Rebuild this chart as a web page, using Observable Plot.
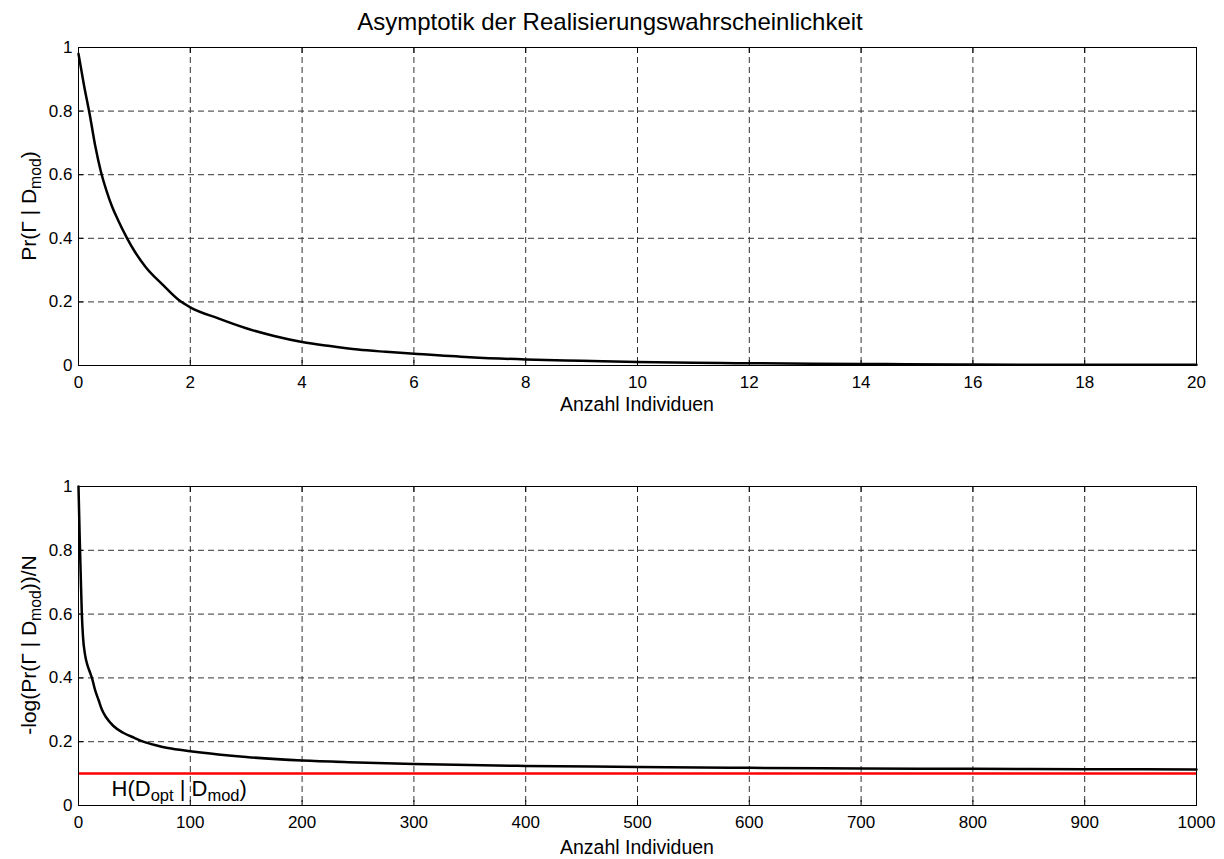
<!DOCTYPE html>
<html>
<head>
<meta charset="utf-8">
<script src="https://cdn.jsdelivr.net/npm/d3@7"></script>
<script src="https://cdn.jsdelivr.net/npm/@observablehq/plot@0.6"></script>
<style>
  html, body { margin: 0; padding: 0; background: #fff; }
  #wrap { position: relative; width: 1224px; height: 859px; font-family: "Liberation Sans", Arial, Helvetica, sans-serif; }
  #wrap svg { position: absolute; left: 0; }
  #wrap g[aria-label$="tick label"] text { font-size: 17px !important; fill: #000; }
</style>
</head>
<body>
<div id="wrap"></div>
<script>
// ---- Data ----
const titleText = "Asymptotik der Realisierungswahrscheinlichkeit";
const xLabel = "Anzahl Individuen";

// Top panel: Pr(Γ | D_mod) vs. number of individuals
const topX = [0, 0.1, 0.2, 0.3, 0.4, 0.5, 0.6, 0.7, 0.87, 1.0, 1.2, 1.5, 1.8, 2.0, 2.5, 3.0, 3.5, 4.0, 4.5, 5.0, 5.5, 6.0, 7.0, 8.0, 9.0, 10.0, 11.5, 12.0, 14.0, 14.8, 16.0, 18.0, 20.0];
const topY = [0.98, 0.88, 0.79, 0.69, 0.61, 0.55, 0.50, 0.46, 0.40, 0.36, 0.31, 0.255, 0.205, 0.183, 0.148, 0.117, 0.093, 0.074, 0.061, 0.050, 0.043, 0.037, 0.026, 0.019, 0.015, 0.011, 0.008, 0.007, 0.005, 0.004, 0.003, 0.002, 0.002];
const topXTicks = [0, 2, 4, 6, 8, 10, 12, 14, 16, 18, 20];

// Bottom panel: -log(Pr(Γ | D_mod))/N vs. number of individuals
const botX = [0, 1, 2, 3, 4, 6, 8, 10, 12, 15, 18, 21, 25, 31, 40, 50, 58, 70, 80, 100, 125, 150, 200, 250, 300, 400, 500, 600, 700, 800, 900, 1000];
const botY = [1.0, 0.85, 0.72, 0.60, 0.53, 0.47, 0.44, 0.42, 0.40, 0.36, 0.33, 0.30, 0.275, 0.25, 0.228, 0.212, 0.20, 0.188, 0.18, 0.17, 0.16, 0.152, 0.141, 0.135, 0.13, 0.124, 0.121, 0.118, 0.116, 0.115, 0.114, 0.113];
const botXTicks = [0, 100, 200, 300, 400, 500, 600, 700, 800, 900, 1000];

// Entropy limit H(D_opt | D_mod)
const hLimit = 0.1;
const hLabelPos = [30, 0.028];

const yTicks = [0, 0.2, 0.4, 0.6, 0.8, 1];

// ---- Build ----
const topData = topX.map((x, i) => ({x, y: topY[i]}));
const botData = botX.map((x, i) => ({x, y: botY[i]}));

const W = 1224;
const font = '"Liberation Sans", Arial, Helvetica, sans-serif';
const gridStyle = {stroke: "#333", strokeOpacity: 1, strokeWidth: 1, strokeDasharray: "6,4"};
const tickFont = 17;

function panel(data, xDomain, xTicks, height, mt, mb, extra) {
  return Plot.plot({
    width: W, height,
    marginLeft: 78, marginRight: 28, marginTop: mt, marginBottom: mb,
    style: {fontFamily: font, fontSize: tickFont + "px", color: "#000", background: "transparent"},
    x: {domain: xDomain, label: null},
    y: {domain: [0, 1], label: null},
    marks: [
      Plot.gridX(xTicks, gridStyle),
      Plot.gridY(yTicks, gridStyle),
      ...(extra || []),
      Plot.line(data, {x: "x", y: "y", stroke: "#000", strokeWidth: 2.5, curve: "monotone-x"}),
      Plot.frame({stroke: "#000", strokeWidth: 1}),
      Plot.axisX(xTicks, {anchor: "bottom", tickSize: 0, tickPadding: 10, tickFormat: d => String(d), label: null, fill: "#000", fontSize: tickFont}),
      Plot.axisX(xTicks, {anchor: "bottom", tickSize: -5, tickFormat: () => "", label: null, stroke: "#000"}),
      Plot.axisX(xTicks, {anchor: "top", tickSize: -5, tickFormat: () => "", label: null, stroke: "#000"}),
      Plot.axisY(yTicks, {anchor: "left", tickSize: 0, tickPadding: 6, tickFormat: d => String(d), label: null, fill: "#000", fontSize: tickFont}),
      Plot.axisY(yTicks, {anchor: "left", tickSize: -5, tickFormat: () => "", label: null, stroke: "#000"}),
      Plot.axisY(yTicks, {anchor: "right", tickSize: -5, tickFormat: () => "", label: null, stroke: "#000"})
    ]
  });
}

const wrap = document.getElementById("wrap");

const topSvg = panel(topData, [0, 20], topXTicks, 430, 47, 65);
topSvg.style.top = "0px";
wrap.appendChild(topSvg);

const botSvg = panel(botData, [0, 1000], botXTicks, 429, 56, 54, [
  Plot.ruleY([hLimit], {stroke: "#ff0000", strokeWidth: 2.5})
]);
botSvg.style.top = "430px";
wrap.appendChild(botSvg);

// ---- Text with subscripts ----
function addText(svg, x, y, parts, opts = {}) {
  const size = opts.size || 18;
  const t = d3.select(svg).append("text")
    .attr("x", x).attr("y", y)
    .attr("font-family", font)
    .attr("font-size", size)
    .attr("fill", "#000")
    .attr("text-anchor", opts.anchor || "middle");
  if (opts.rotate) t.attr("transform", `rotate(-90 ${x} ${y})`);
  parts.forEach(p => {
    const ts = t.append("tspan").text(p.t);
    if (p.sub) ts.attr("baseline-shift", "-30%").attr("font-size", size * 0.75);
  });
  return t;
}

// title
addText(topSvg, 610, 30, [{t: titleText}], {size: 24});

// x labels
addText(topSvg, 637, 411, [{t: xLabel}], {size: 19.5});
addText(botSvg, 637, 424, [{t: xLabel}], {size: 19.5});

// y labels
addText(topSvg, 36, 206, [{t: "Pr(Γ | D"}, {t: "mod", sub: true}, {t: ")"}], {size: 21, rotate: true});
addText(botSvg, 36, 215, [{t: "-log(Pr(Γ | D"}, {t: "mod", sub: true}, {t: "))/N"}], {size: 21, rotate: true});

// H label positioned through the bottom panel's scales
const bx = botSvg.scale("x"), by = botSvg.scale("y");
addText(botSvg, bx.apply(hLabelPos[0]), by.apply(hLabelPos[1]),
  [{t: "H(D"}, {t: "opt", sub: true}, {t: " | D"}, {t: "mod", sub: true}, {t: ")"}],
  {size: 22, anchor: "start"});
</script>
</body>
</html>
